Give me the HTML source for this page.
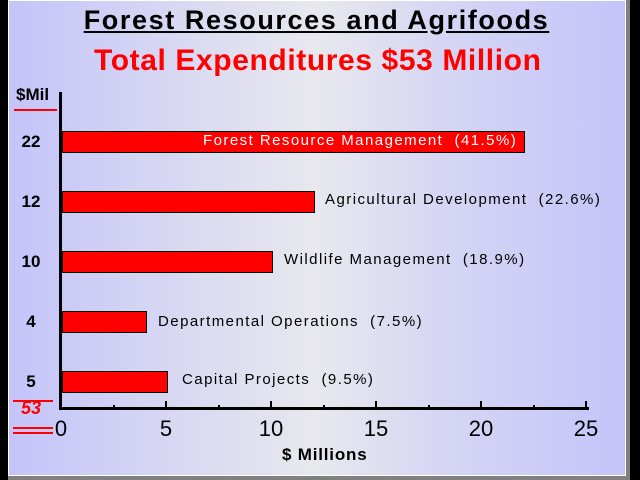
<!DOCTYPE html>
<html><head><style>
html,body{margin:0;padding:0;}
body{width:640px;height:480px;position:relative;overflow:hidden;background:#000;font-family:"Liberation Sans",Arial,sans-serif;}
#bg{position:absolute;left:8px;top:0;width:618px;height:476px;background:linear-gradient(to right,#c4c4fa 0%,#dadaf2 30%,#e8e8ee 50%,#d6d6f4 70%,#c4c4fa 100%);border:1px solid #fff;box-sizing:border-box;}
#gb{position:absolute;left:8px;top:476px;width:622px;height:4px;background:#808080;}
#gr{position:absolute;left:626px;top:0;width:4px;height:480px;background:#808080;}
.t{position:absolute;white-space:nowrap;}
.bar{position:absolute;left:62px;height:22px;background:#f00;border:1px solid #000;box-sizing:border-box;}
.lab{position:absolute;font-size:15px;letter-spacing:1.45px;white-space:nowrap;color:#000;}
.num{position:absolute;width:40px;left:11px;text-align:center;font-weight:bold;font-size:17px;}
.xl{position:absolute;font-size:22px;width:40px;text-align:center;top:416px;}
.tk{position:absolute;width:2px;background:#000;}
</style></head><body>
<div id="bg"></div><div id="gr"></div><div id="gb"></div>
<div class="t" style="left:76px;width:481px;text-align:center;top:5px;font-size:27px;letter-spacing:1.6px;font-weight:bold;text-decoration:underline;">Forest Resources and Agrifoods</div>
<div class="t" style="left:94px;width:447px;text-align:center;top:44px;font-size:30px;letter-spacing:0.6px;font-weight:bold;color:#f00;">Total Expenditures $53 Million</div>
<div class="t" style="left:16px;top:85px;font-size:17px;font-weight:bold;">$Mil</div>
<div style="position:absolute;left:14px;top:109px;width:43px;height:2px;background:#f00"></div>
<div class="num" style="top:132px">22</div>
<div class="num" style="top:192px">12</div>
<div class="num" style="top:252px">10</div>
<div class="num" style="top:312px">4</div>
<div class="num" style="top:372px">5</div>
<div style="position:absolute;left:13px;top:400px;width:40px;height:2px;background:#f00"></div>
<div class="t" style="left:21px;top:398px;font-size:18px;font-weight:bold;font-style:italic;color:#f00;">53</div>
<div style="position:absolute;left:13px;top:427px;width:40px;height:2px;background:#f00"></div>
<div style="position:absolute;left:13px;top:432px;width:40px;height:2px;background:#f00"></div>
<div style="position:absolute;left:59px;top:92px;width:3px;height:318px;background:#000"></div>
<div style="position:absolute;left:59px;top:407px;width:530px;height:3px;background:#000"></div>
<div class="tk" style="left:165px;top:401px;height:7px"></div>
<div class="tk" style="left:270px;top:401px;height:7px"></div>
<div class="tk" style="left:375px;top:401px;height:7px"></div>
<div class="tk" style="left:480px;top:401px;height:7px"></div>
<div class="tk" style="left:585px;top:401px;height:7px"></div>
<div class="tk" style="left:113px;top:405px;height:3px"></div>
<div class="tk" style="left:218px;top:405px;height:3px"></div>
<div class="tk" style="left:323px;top:405px;height:3px"></div>
<div class="tk" style="left:428px;top:405px;height:3px"></div>
<div class="tk" style="left:533px;top:405px;height:3px"></div>
<div class="xl" style="left:41px">0</div>
<div class="xl" style="left:146px">5</div>
<div class="xl" style="left:251px">10</div>
<div class="xl" style="left:356px">15</div>
<div class="xl" style="left:461px">20</div>
<div class="xl" style="left:566px">25</div>
<div class="t" style="left:282px;width:83px;text-align:center;top:445px;font-size:17px;letter-spacing:0.8px;font-weight:bold;">$ Millions</div>
<div class="bar" style="top:131px;width:463px"></div>
<div class="bar" style="top:191px;width:253px"></div>
<div class="bar" style="top:251px;width:211px"></div>
<div class="bar" style="top:311px;width:85px"></div>
<div class="bar" style="top:371px;width:106px"></div>
<div class="lab" style="left:203px;top:132px;color:#fff">Forest Resource Management&nbsp; (41.5%)</div>
<div class="lab" style="left:325px;top:191px">Agricultural Development&nbsp; (22.6%)</div>
<div class="lab" style="left:284px;top:251px">Wildlife Management&nbsp; (18.9%)</div>
<div class="lab" style="left:158px;top:313px">Departmental Operations&nbsp; (7.5%)</div>
<div class="lab" style="left:182px;top:371px">Capital Projects&nbsp; (9.5%)</div>
</body></html>
